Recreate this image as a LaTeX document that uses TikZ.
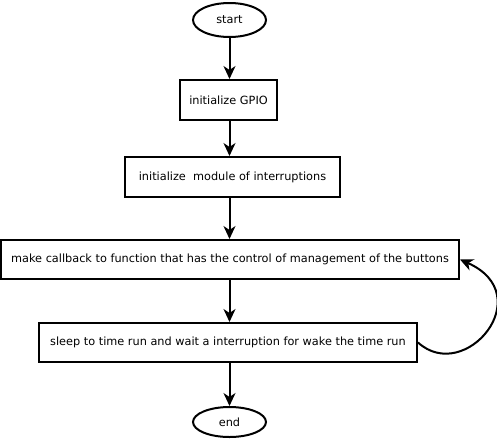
\documentclass[tikz,border=0pt]{standalone}
\usepackage{fontspec}
\setmainfont{DejaVu Sans}
\usetikzlibrary{arrows.meta,shapes.geometric}
\begin{document}
\begin{tikzpicture}[x=1pt,y=-1pt,
  every node/.style={font=\fontsize{11.3}{13}\selectfont},
  box/.style={draw,line width=2pt,inner sep=0pt},
  oval/.style={draw,ellipse,line width=2pt,inner sep=0pt},
  arr/.style={line width=2pt,-{Stealth[length=13pt,width=12pt,inset=4pt]}}]
\useasboundingbox (0,0) rectangle (497,442);
\node[oval,minimum width=73pt,minimum height=34pt] (start) at (229.5,20) {start};
\node[box,minimum width=97pt,minimum height=40pt] (gpio) at (228.5,100) {initialize GPIO};
\node[box,minimum width=215pt,minimum height=40pt] (intr) at (232.5,177) {initialize\ \ module of interruptions};
\node[box,minimum width=458pt,minimum height=39pt] (cb) at (230,259.5) {make callback to function that has the control of management of the buttons};
\node[box,minimum width=378pt,minimum height=39pt] (sl) at (228,342.5) {sleep to time run and wait a interruption for wake the time run};
\node[oval,minimum width=73pt,minimum height=30pt] (end) at (229.5,422) {end};
\draw[arr] (start) -- (gpio.north -| start.center);
\draw[arr] (gpio.south -| start.center) -- (intr.north -| start.center);
\draw[arr] (intr.south -| start.center) -- (cb.north -| start.center);
\draw[arr] (cb.south -| start.center) -- (sl.north -| start.center);
\draw[arr] (sl.south -| start.center) -- (end);
\draw[arr] (sl.east) .. controls (465,385) and (540,295) .. (cb.east);
\end{tikzpicture}
\end{document}
